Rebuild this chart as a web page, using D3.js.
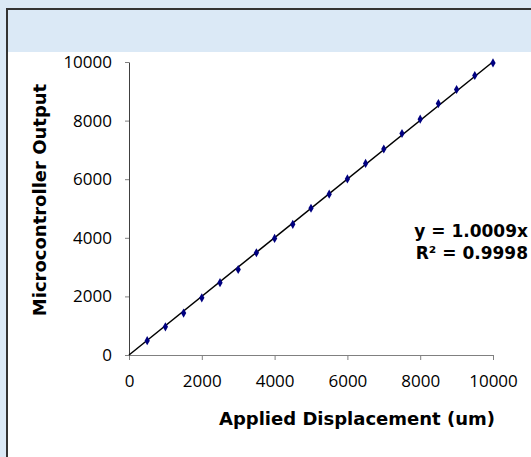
<!DOCTYPE html>
<html>
<head>
<meta charset="utf-8">
<script src="https://cdn.jsdelivr.net/npm/d3@7"></script>
<style>
  body { margin: 0; background: #dbe9f6; }
  svg { display: block; }
  .tick text { font-family: "Open Sans", sans-serif; font-size: 17px; fill: #000; }
  .axisTitle { font-family: "DejaVu Sans", Verdana, sans-serif; font-size: 18px; font-weight: bold; }
  .eqText { font-family: "DejaVu Sans", Verdana, sans-serif; font-size: 17px; font-weight: bold; }
</style>
</head>
<body>
<div id="chart"></div>
<script>
//---------------- data ----------------------
var displacement = [500, 1000, 1500, 2000, 2500, 3000, 3500, 4000, 4500, 5000,
                    5500, 6000, 6500, 7000, 7500, 8000, 8500, 9000, 9500, 10000];
var output = [490, 960, 1430, 1950, 2470, 2920, 3490, 3980, 4460, 5010,
              5490, 6010, 6540, 7030, 7560, 8050, 8580, 9060, 9540, 9970];
var slope = 1.0009;
var xTicks = [0, 2000, 4000, 6000, 8000, 10000];
var yTicks = [0, 2000, 4000, 6000, 8000, 10000];

var w = 531;
var h = 457;

var svg = d3.select("#chart").append("svg").attr("width", w).attr("height", h);

// background and frame
svg.append("rect")
	.attr("x", 0).attr("y", 0).attr("width", w).attr("height", h)
	.attr("fill", "#dbe9f6");
svg.append("rect")
	.attr("x", 7).attr("y", 9).attr("width", w + 20).attr("height", h + 20)
	.attr("fill", "#ffffff")
	.attr("stroke", "#333333")
	.attr("stroke-width", 2);
svg.append("rect")
	.attr("x", 8).attr("y", 10).attr("width", w).attr("height", 42)
	.attr("fill", "#dbe9f6");

//---------------- scales ----------------------
var xScale = d3.scaleLinear().domain([0, 10000]).range([129, 493]);
var yScale = d3.scaleLinear().domain([0, 10000]).range([355, 62]);

//---------------- axes ----------------------
var xAxis = d3.axisBottom(xScale).tickValues(xTicks).tickFormat(d3.format("d"))
	.tickSize(5).tickPadding(15).tickSizeOuter(0);
var yAxis = d3.axisLeft(yScale).tickValues(yTicks).tickFormat(d3.format("d"))
	.tickSize(4).tickPadding(13).tickSizeOuter(0);

var gx = svg.append("g")
	.attr("transform", "translate(0," + yScale(0) + ")")
	.call(xAxis);
gx.select(".domain").attr("stroke", "#808080");
gx.selectAll(".tick line").attr("stroke", "#808080");

var gy = svg.append("g")
	.attr("transform", "translate(" + xScale(0) + ",0)")
	.call(yAxis);
gy.select(".domain").attr("stroke", "#404040");
gy.selectAll(".tick line").attr("stroke", "#808080");

// trend line
svg.append("line")
	.attr("x1", xScale(0)).attr("y1", yScale(0))
	.attr("x2", xScale(10000)).attr("y2", yScale(10000 * slope))
	.attr("stroke", "#000")
	.attr("stroke-width", 1.5);

// points
svg.append("g").selectAll("path")
	.data(displacement)
	.enter()
	.append("path")
	.attr("d", d3.symbol().type(d3.symbolDiamond).size(24))
	.attr("transform", function(d, i) {
		return "translate(" + xScale(d) + "," + yScale(output[i]) + ")";
	})
	.attr("fill", "#000080");

// axis titles
svg.append("text")
	.attr("class", "axisTitle")
	.attr("x", 357).attr("y", 425)
	.attr("text-anchor", "middle")
	.text("Applied Displacement (um)");

svg.append("text")
	.attr("class", "axisTitle")
	.attr("transform", "translate(46,200) rotate(-90)")
	.attr("text-anchor", "middle")
	.text("Microcontroller Output");

// equation
var eq = svg.append("text")
	.attr("class", "eqText")
	.attr("text-anchor", "end");
eq.append("tspan").attr("x", 528).attr("y", 237).text("y = 1.0009x");
eq.append("tspan").attr("x", 528).attr("y", 259).text("R² = 0.9998");
</script>
</body>
</html>
